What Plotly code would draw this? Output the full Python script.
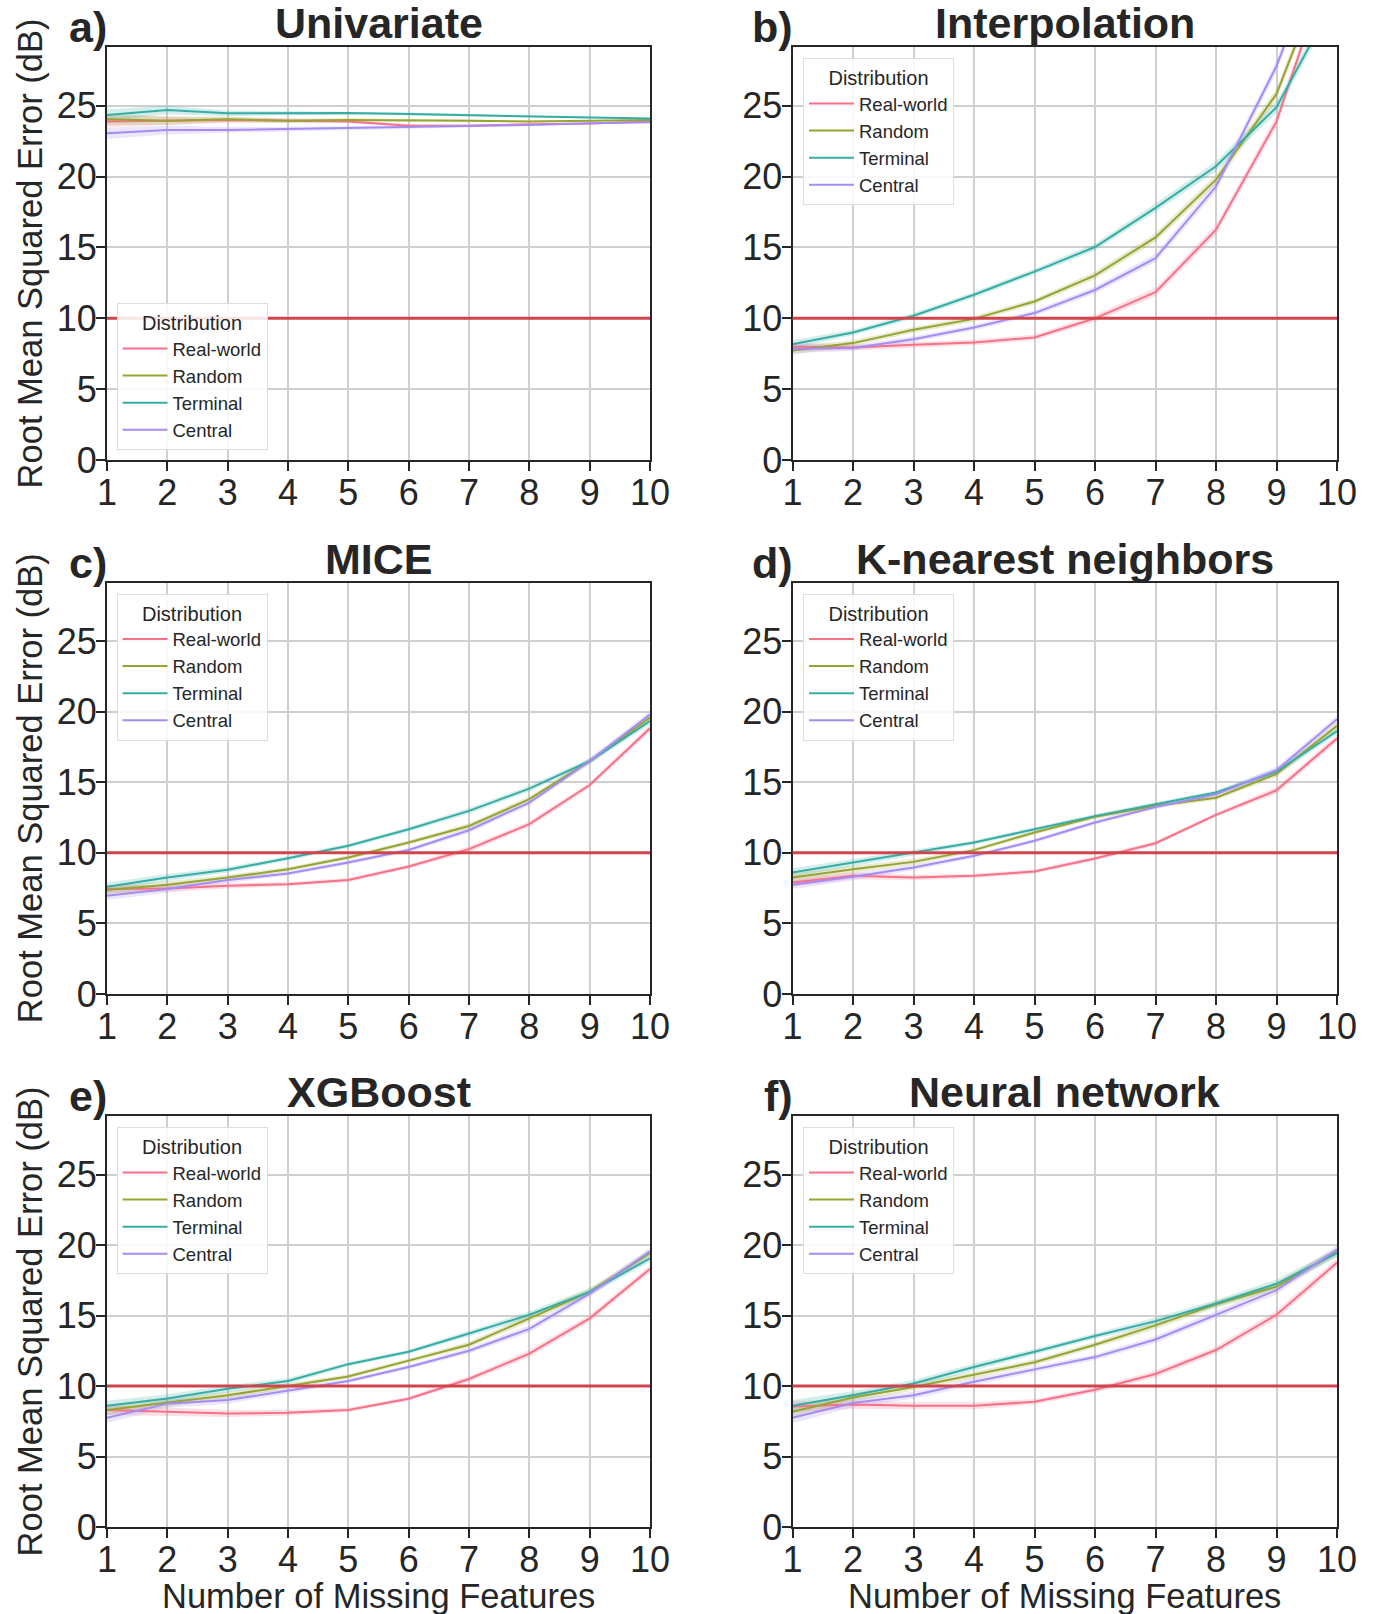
import plotly.graph_objects as go

x_vals = [1, 2, 3, 4, 5, 6, 7, 8, 9, 10]
methods = ["Univariate", "Interpolation", "MICE", "K-nearest neighbors", "XGBoost", "Neural network"]
letters = ["a)", "b)", "c)", "d)", "e)", "f)"]
dists = ["Real-world", "Random", "Terminal", "Central"]
colors = ["#f77189", "#97a431", "#36ada4", "#a48cf4"]
band_colors = ["rgba(247,113,137,0.22)", "rgba(151,164,49,0.22)", "rgba(54,173,164,0.22)", "rgba(164,140,244,0.22)"]
y_ticks = [0, 5, 10, 15, 20, 25]
threshold = 10

# Univariate
uni_real = [23.9, 23.95, 24.0, 23.95, 23.9, 23.6, 23.6, 23.7, 23.75, 23.9]
uni_rand = [24.05, 23.95, 24.05, 23.95, 24.0, 24.0, 23.95, 23.9, 23.95, 24.0]
uni_term = [24.35, 24.7, 24.47, 24.47, 24.5, 24.42, 24.35, 24.24, 24.16, 24.1]
uni_cent = [23.06, 23.3, 23.3, 23.36, 23.43, 23.48, 23.55, 23.65, 23.76, 23.84]
uni_ci = [0.4, 0.3, 0.2, 0.15, 0.12, 0.1, 0.08, 0.06, 0.05, 0.04]

# Interpolation
int_real = [8.0, 7.94, 8.13, 8.3, 8.65, 10.0, 11.85, 16.25, 23.9, 36.6]
int_rand = [7.73, 8.25, 9.19, 9.96, 11.19, 13.03, 15.71, 19.79, 25.84, 36.8]
int_term = [8.17, 9.0, 10.18, 11.66, 13.3, 15.03, 17.8, 20.73, 24.9, 32.8]
int_cent = [7.85, 7.9, 8.53, 9.35, 10.37, 12.0, 14.25, 19.3, 27.8, 39.0]
int_ci = [0.3, 0.2, 0.2, 0.2, 0.2, 0.25, 0.3, 0.35, 0.4, 0.5]

# MICE
mice_real = [7.43, 7.48, 7.67, 7.78, 8.07, 9.03, 10.26, 12.03, 14.8, 18.82]
mice_rand = [7.36, 7.74, 8.25, 8.84, 9.67, 10.73, 11.9, 13.8, 16.5, 19.58]
mice_term = [7.59, 8.25, 8.8, 9.62, 10.5, 11.67, 12.97, 14.55, 16.5, 19.34]
mice_cent = [6.96, 7.43, 8.07, 8.54, 9.32, 10.2, 11.6, 13.56, 16.5, 19.8]
mice_ci = [0.3, 0.25, 0.2, 0.15, 0.15, 0.15, 0.2, 0.2, 0.2, 0.25]

# K-nearest neighbors
knn_real = [7.9, 8.37, 8.25, 8.37, 8.68, 9.6, 10.68, 12.69, 14.43, 18.11]
knn_rand = [8.25, 8.84, 9.36, 10.19, 11.44, 12.55, 13.33, 13.9, 15.6, 19.0]
knn_term = [8.6, 9.32, 10.05, 10.73, 11.67, 12.6, 13.44, 14.27, 15.75, 18.63]
knn_cent = [7.74, 8.3, 8.96, 9.79, 10.85, 12.15, 13.25, 14.15, 15.85, 19.46]
knn_ci = [0.3, 0.25, 0.2, 0.15, 0.15, 0.15, 0.15, 0.15, 0.25, 0.25]

# XGBoost
xgb_real = [8.3, 8.18, 8.05, 8.1, 8.3, 9.1, 10.5, 12.3, 14.8, 18.3]
xgb_rand = [8.3, 8.85, 9.35, 10.0, 10.68, 11.8, 12.93, 14.8, 16.68, 19.43]
xgb_term = [8.6, 9.12, 9.8, 10.35, 11.55, 12.43, 13.72, 15.05, 16.68, 19.05]
xgb_cent = [7.75, 8.75, 9.0, 9.68, 10.35, 11.35, 12.5, 14.05, 16.55, 19.55]
xgb_ci = [0.35, 0.3, 0.25, 0.2, 0.15, 0.15, 0.2, 0.25, 0.25, 0.25]

# Neural network
nn_real = [8.55, 8.68, 8.6, 8.6, 8.88, 9.73, 10.85, 12.55, 15.05, 18.75]
nn_rand = [8.18, 9.18, 9.93, 10.8, 11.68, 12.93, 14.3, 15.8, 17.05, 19.5]
nn_term = [8.6, 9.35, 10.18, 11.35, 12.43, 13.55, 14.6, 15.85, 17.25, 19.43]
nn_cent = [7.75, 8.8, 9.35, 10.3, 11.18, 12.05, 13.3, 15.05, 16.8, 19.68]
nn_ci = [0.4, 0.3, 0.25, 0.25, 0.2, 0.2, 0.25, 0.25, 0.3, 0.3]

panels = [
    [uni_real, uni_rand, uni_term, uni_cent],
    [int_real, int_rand, int_term, int_cent],
    [mice_real, mice_rand, mice_term, mice_cent],
    [knn_real, knn_rand, knn_term, knn_cent],
    [xgb_real, xgb_rand, xgb_term, xgb_cent],
    [nn_real, nn_rand, nn_term, nn_cent],
]
panel_ci = [uni_ci, int_ci, mice_ci, knn_ci, xgb_ci, nn_ci]

W, H = 1375, 1614
col_dom = [(107 / W, 650 / W), (792.5 / W, 1337 / W)]
row_px = [(47, 460), (582.5, 994), (1116, 1527)]
row_dom = [((H - b) / H, (H - t) / H) for (t, b) in row_px]

FONT = "Liberation Sans, Arial, sans-serif"
TXT = "#262626"

fig = go.Figure()
layout = dict(
    width=W, height=H,
    margin=dict(l=0, r=0, t=0, b=0, autoexpand=False),
    paper_bgcolor="white", plot_bgcolor="white",
    font=dict(family=FONT, color=TXT),
    shapes=[], annotations=[],
)

for i in range(6):
    r, c = divmod(i, 2)
    ax = "" if i == 0 else str(i + 1)
    xa, ya = "x" + ax, "y" + ax
    leg = "legend" + ("" if i == 0 else str(i + 1))
    ci = panel_ci[i]
    for k, series in enumerate(panels[i]):
        upper = [v + e for v, e in zip(series, ci)]
        lower = [v - e for v, e in zip(series, ci)]
        fig.add_trace(go.Scatter(x=x_vals, y=upper, mode="lines", line=dict(width=0, color=colors[k]),
                                 showlegend=False, hoverinfo="skip", xaxis=xa, yaxis=ya))
        fig.add_trace(go.Scatter(x=x_vals, y=lower, mode="lines", line=dict(width=0, color=colors[k]),
                                 fill="tonexty", fillcolor=band_colors[k],
                                 showlegend=False, hoverinfo="skip", xaxis=xa, yaxis=ya))
    for k, series in enumerate(panels[i]):
        fig.add_trace(go.Scatter(x=x_vals, y=series, mode="lines", name=dists[k],
                                 line=dict(width=2, color=colors[k]),
                                 xaxis=xa, yaxis=ya, legend=leg))

    axis_common = dict(showline=True, linecolor=TXT, linewidth=2, mirror=True,
                       ticks="outside", ticklen=9, tickwidth=2, tickcolor=TXT,
                       showgrid=True, gridcolor="#cfcfcf", gridwidth=1.5, zeroline=False,
                       automargin=False,
                       tickfont=dict(size=36, color=TXT, family=FONT))
    xdict = dict(axis_common, domain=list(col_dom[c]), anchor=ya, range=[1, 10],
                 tickvals=x_vals, ticklabelstandoff=-9)
    ydict = dict(axis_common, domain=list(row_dom[r]), anchor=xa, range=[0, 29.15],
                 tickvals=y_ticks, ticklabelstandoff=-8)
    if c == 0:
        ydict["title"] = dict(text="Root Mean Squared Error (dB)", font=dict(size=34.5, color=TXT), standoff=4)
    layout["xaxis" + ax] = xdict
    layout["yaxis" + ax] = ydict

    # threshold line
    layout["shapes"].append(dict(type="line", xref=xa + " domain", yref=ya, x0=0, x1=1,
                                 y0=threshold, y1=threshold,
                                 line=dict(color="#d0454d", width=3), layer="above"))

    x0, x1 = col_dom[c]
    y1 = row_dom[r][1]
    layout["annotations"].append(dict(text="<b>" + methods[i] + "</b>", xref="paper", yref="paper",
                                      x=(x0 + x1) / 2, y=y1, xanchor="center", yanchor="bottom",
                                      yshift=-2, showarrow=False, font=dict(size=43, color=TXT)))
    layout["annotations"].append(dict(text="<b>" + letters[i] + "</b>", xref="paper", yref="paper",
                                      x=x0, y=y1, xanchor="right", yanchor="bottom",
                                      xshift=2, yshift=-6, showarrow=False, font=dict(size=43, color=TXT)))
    if r == 2:
        layout["annotations"].append(dict(text="Number of Missing Features", xref="paper", yref="paper",
                                          x=(x0 + x1) / 2, y=(H - 1596) / H, xanchor="center",
                                          yanchor="middle", showarrow=False,
                                          font=dict(size=34.5, color=TXT)))

    legdict = dict(title=dict(text="Distribution", side="top center", font=dict(size=20, color=TXT)),
                   font=dict(size=18.5, color=TXT), bgcolor="rgba(255,255,255,0.85)",
                   bordercolor="#dddddd", borderwidth=1, tracegroupgap=0, traceorder="normal",
                   itemwidth=45, xref="paper", yref="paper")
    px_left = (116.5 if c == 0 else 803) / W
    if i == 0:
        legdict.update(x=px_left, y=(H - 450) / H, xanchor="left", yanchor="bottom")
    else:
        top_px = row_px[r][0] + 11
        legdict.update(x=px_left, y=(H - top_px) / H, xanchor="left", yanchor="top")
    layout[leg] = legdict

fig.update_layout(**layout)
fig.write_html("out.html", config={"displayModeBar": False},
               post_script="document.body.style.margin='0';document.body.style.overflow='hidden';")
